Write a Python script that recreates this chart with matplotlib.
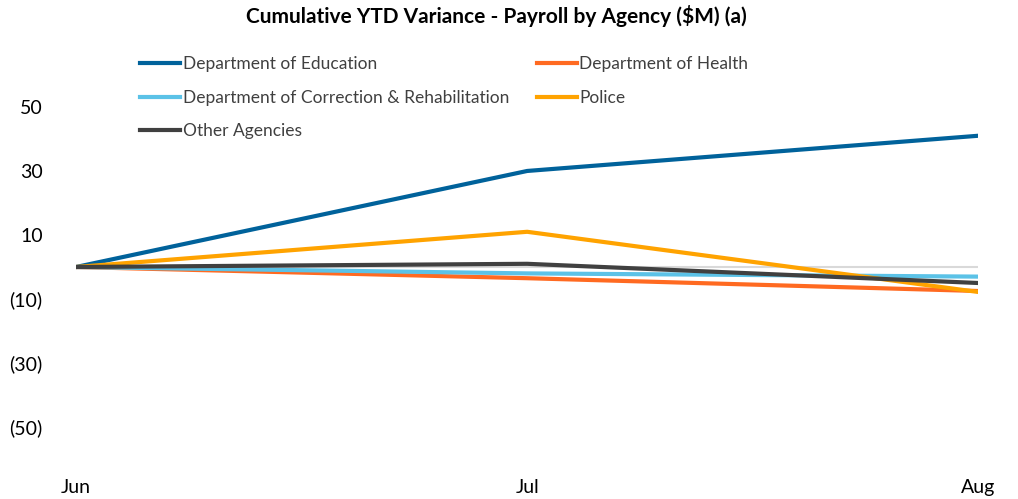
import numpy as np
from matplotlib import pyplot as plt

plt.rcParams['font.family'] = ['Lato', 'DejaVu Sans']

months = ['Jun', 'Jul', 'Aug']
education = [0, 30, 41]
health = [0, -3.5, -7.5]
correction = [0, -2, -3]
police = [0, 11, -7.8]
other = [0, 1, -5]
yticks = [50, 30, 10, -10, -30, -50]

fig = plt.figure(figsize=(10.18, 4.99), dpi=100)
ax = fig.add_axes([0.0747, 0.080, 0.8863, 0.834])
x = np.arange(len(months))

ax.axhline(0, color='#d9d9d9', lw=1.5, zorder=1)
lw = 3
l_edu, = ax.plot(x, education, color='#00629b', lw=lw, label='Department of Education', zorder=3)
l_hea, = ax.plot(x, health, color='#ff6a21', lw=lw, label='Department of Health', zorder=3)
l_cor, = ax.plot(x, correction, color='#5bc2e7', lw=lw, label='Department of Correction & Rehabilitation', zorder=3)
l_pol, = ax.plot(x, police, color='#ffa300', lw=lw, label='Police', zorder=3)
l_oth, = ax.plot(x, other, color='#404040', lw=lw, label='Other Agencies', zorder=3)

ax.set_xlim(0, 2)
ax.set_ylim(-60, 70)
ax.set_xticks(x)
ax.set_xticklabels(months)
ax.set_yticks(yticks)
ax.set_yticklabels([str(v) if v > 0 else '(%d)' % -v for v in yticks])
ax.tick_params(axis='both', length=0, labelsize=14, colors='black')
ax.tick_params(axis='y', pad=24)
ax.tick_params(axis='x', pad=14)
for s in ax.spines.values():
    s.set_visible(False)

handles = [l_edu, l_cor, l_oth, l_hea, l_pol]
leg = fig.legend(handles=handles, labels=[h.get_label() for h in handles], ncol=2,
                 loc='upper left', bbox_to_anchor=(0.1375, 0.887), frameon=False,
                 fontsize=12.5, handlelength=2.3, handletextpad=0.15, labelspacing=1.0,
                 columnspacing=1.6, borderaxespad=0, borderpad=0)
for t in leg.get_texts():
    t.set_color('#404040')

fig.text(0.488, 0.968, 'Cumulative YTD Variance - Payroll by Agency ($M) (a)',
         ha='center', va='center', fontsize=15, fontweight='bold')

fig.savefig('out.png', dpi=100)
